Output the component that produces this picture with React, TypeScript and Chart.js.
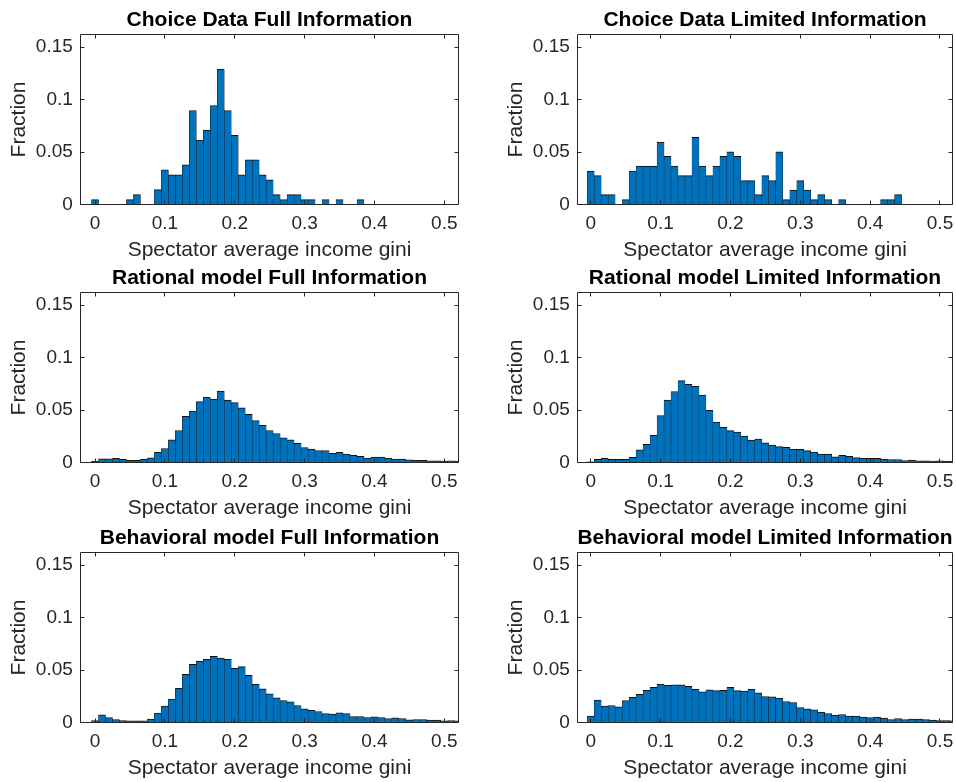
import React, { useEffect, useRef } from "react";
import { Chart, registerables } from "chart.js";

Chart.register(...registerables);

// ---------------- data ----------------
const binCenters = [
  0.0, 0.01, 0.02, 0.03, 0.04, 0.05, 0.06, 0.07, 0.08, 0.09,
  0.1, 0.11, 0.12, 0.13, 0.14, 0.15, 0.16, 0.17, 0.18, 0.19,
  0.2, 0.21, 0.22, 0.23, 0.24, 0.25, 0.26, 0.27, 0.28, 0.29,
  0.3, 0.31, 0.32, 0.33, 0.34, 0.35, 0.36, 0.37, 0.38, 0.39,
  0.4, 0.41, 0.42, 0.43, 0.44, 0.45, 0.46, 0.47, 0.48, 0.49,
  0.5, 0.51, 0.52,
];

const choiceFull = [
  0.0047, 0, 0, 0, 0, 0.0047, 0.0094, 0, 0, 0.0142,
  0.033, 0.0283, 0.0283, 0.0377, 0.0896, 0.0613, 0.0708, 0.0943, 0.129, 0.0896,
  0.066, 0.0283, 0.0425, 0.0425, 0.0283, 0.0236, 0.0094, 0.0047, 0.0094, 0.0094,
  0.0047, 0.0047, 0, 0.0047, 0, 0.0047, 0, 0, 0.0047, 0,
  0, 0, 0, 0, 0, 0, 0, 0, 0, 0,
  0, 0, 0,
];

const choiceLimited = [
  0.0319, 0.0275, 0.0094, 0.0094, 0, 0.0047, 0.0319, 0.0366, 0.0366, 0.0366,
  0.0594, 0.046, 0.0366, 0.0275, 0.0275, 0.064, 0.0366, 0.0275, 0.0366, 0.046,
  0.0503, 0.046, 0.0228, 0.0228, 0.0094, 0.0275, 0.0228, 0.0503, 0.0047, 0.0138,
  0.0228, 0.0138, 0.0047, 0.0094, 0.0047, 0, 0.0047, 0, 0, 0,
  0, 0, 0.0047, 0.0047, 0.0094, 0, 0, 0, 0, 0,
  0, 0, 0,
];

const rationalFull = [
  0.001, 0.0036, 0.0036, 0.004, 0.003, 0.002, 0.002, 0.003, 0.0045, 0.0098,
  0.0133, 0.0215, 0.0305, 0.044, 0.049, 0.058, 0.062, 0.0605, 0.068, 0.0595,
  0.057, 0.052, 0.0458, 0.04, 0.0354, 0.0305, 0.0276, 0.0234, 0.0215, 0.0182,
  0.0143, 0.0127, 0.0114, 0.0114, 0.0088, 0.0098, 0.0081, 0.0068, 0.0058, 0.0042,
  0.0052, 0.0052, 0.0042, 0.0033, 0.0033, 0.0026, 0.002, 0.002, 0.0016, 0.0016,
  0.0013, 0.0016, 0.0013,
];

const rationalLimited = [
  0.0006, 0.003, 0.004, 0.003, 0.003, 0.003, 0.005, 0.012, 0.0174, 0.0258,
  0.0448, 0.0594, 0.0677, 0.078, 0.0745, 0.0726, 0.0642, 0.0497, 0.0384, 0.0335,
  0.0303, 0.029, 0.0252, 0.0213, 0.0223, 0.0187, 0.0165, 0.0152, 0.0145, 0.0129,
  0.0126, 0.0113, 0.01, 0.008, 0.008, 0.0055, 0.0068, 0.0058, 0.0048, 0.0039,
  0.0039, 0.0039, 0.0032, 0.0029, 0.0029, 0.0019, 0.0023, 0.0016, 0.0016, 0.0013,
  0.0016, 0.0013, 0.0013,
];

const behavioralFull = [
  0.0019, 0.0073, 0.0048, 0.0029, 0.0019, 0.0016, 0.0016, 0.0016, 0.0032, 0.0089,
  0.0156, 0.0223, 0.0325, 0.0459, 0.0554, 0.0586, 0.0602, 0.063, 0.0615, 0.0602,
  0.0516, 0.0532, 0.0449, 0.0363, 0.0322, 0.0274, 0.0236, 0.021, 0.0197, 0.0162,
  0.0131, 0.0115, 0.0105, 0.0086, 0.008, 0.0092, 0.0086, 0.0057, 0.0057, 0.0048,
  0.0054, 0.0048, 0.0038, 0.0045, 0.0038, 0.0025, 0.0029, 0.0029, 0.0022, 0.0022,
  0.0016, 0.0019, 0.0016,
];

const behavioralLimited = [
  0.006, 0.0213, 0.0156, 0.0162, 0.015, 0.021, 0.0239, 0.0268, 0.0306, 0.0334,
  0.0366, 0.0354, 0.036, 0.036, 0.0344, 0.0315, 0.0293, 0.0312, 0.0303, 0.0306,
  0.0334, 0.0303, 0.03, 0.0315, 0.0283, 0.0248, 0.0245, 0.0232, 0.02, 0.0191,
  0.0143, 0.0131, 0.0121, 0.0099, 0.0086, 0.007, 0.0076, 0.006, 0.006, 0.0051,
  0.0048, 0.0051, 0.0041, 0.0029, 0.0038, 0.0029, 0.0032, 0.0032, 0.0029, 0.0022,
  0.0019, 0.0019, 0.0016,
];

const xTickValues = [0, 0.1, 0.2, 0.3, 0.4, 0.5];
const xTickLabels = ["0", "0.1", "0.2", "0.3", "0.4", "0.5"];
const yTickValues = [0, 0.05, 0.1, 0.15];
const yTickLabels = ["0", "0.05", "0.1", "0.15"];

const titles = [
  "Choice Data Full Information",
  "Choice Data Limited Information",
  "Rational model Full Information",
  "Rational model Limited Information",
  "Behavioral model Full Information",
  "Behavioral model Limited Information",
];
const seriesList = [
  choiceFull,
  choiceLimited,
  rationalFull,
  rationalLimited,
  behavioralFull,
  behavioralLimited,
];
const xLabel = "Spectator average income gini";
const yLabel = "Fraction";

// ---------------- layout & style ----------------
const FONT = '"Liberation Sans", Arial, Helvetica, sans-serif';
const AXIS_COLOR = "#262626";
const BAR_COLOR = "rgb(0,114,189)";
const EDGE_COLOR = "#111111";
const TICK_FONT = 19;
const LABEL_FONT = 21;
const TICK_LEN = 4;
const Y_MAX = 0.162;

const CANVAS_H = 264;
const TOP_AREA = 34.5; // canvas top -> axes top
const X_AXIS_H = 59.5; // axes bottom -> canvas bottom
const Y_AXIS_W = 80.5; // canvas left -> axes left
const rowTops = [0, 258, 518];
const cols = [
  { left: 0, width: 470, rightPad: 11.5, xmin: -0.0208, xmax: 0.5203 },
  { left: 497, width: 459, rightPad: 3.5, xmin: -0.0189, xmax: 0.5179 },
];

const matlabAxesPlugin = {
  id: "matlabAxes",
  afterDatasetsDraw(chart: any) {
    const { ctx, chartArea: a, scales } = chart;
    const xs = scales.x;
    const ys = scales.y;
    const snap = (v: number) => Math.round(v - 0.5) + 0.5;
    const L = snap(a.left);
    const R = snap(a.right);
    const T = snap(a.top);
    const B = snap(a.bottom);
    ctx.save();
    ctx.strokeStyle = AXIS_COLOR;
    ctx.lineWidth = 1;
    ctx.beginPath();
    ctx.rect(L, T, R - L, B - T);
    xs.ticks.forEach((t: any) => {
      const p = snap(xs.getPixelForValue(t.value));
      ctx.moveTo(p, B);
      ctx.lineTo(p, B - TICK_LEN);
      ctx.moveTo(p, T);
      ctx.lineTo(p, T + TICK_LEN);
    });
    ys.ticks.forEach((t: any) => {
      const p = snap(ys.getPixelForValue(t.value));
      ctx.moveTo(L, p);
      ctx.lineTo(L + TICK_LEN, p);
      ctx.moveTo(R, p);
      ctx.lineTo(R - TICK_LEN, p);
    });
    ctx.stroke();
    ctx.restore();
  },
};

function Panel({ index }: { index: number }) {
  const ref = useRef<HTMLCanvasElement | null>(null);
  const col = cols[index % 2];
  const top = rowTops[Math.floor(index / 2)];

  useEffect(() => {
    if (!ref.current) return;
    const values = seriesList[index];
    const chart = new Chart(ref.current, {
      type: "bar",
      data: {
        datasets: [
          {
            data: binCenters.map((x, i) => ({ x, y: values[i] })),
            backgroundColor: BAR_COLOR,
            borderColor: EDGE_COLOR,
            borderWidth: { top: 1, left: 0.5, right: 0.5, bottom: 0 } as any,
            borderSkipped: false,
            barPercentage: 1,
            categoryPercentage: 1,
            clip: 0 as any,
          },
        ],
      },
      plugins: [matlabAxesPlugin],
      options: {
        responsive: false,
        animation: false,
        events: [],
        layout: { padding: { left: 0, top: 0, right: col.rightPad, bottom: 0 } },
        plugins: {
          legend: { display: false },
          tooltip: { enabled: false },
          title: {
            display: true,
            text: titles[index],
            fullSize: false,
            color: "#000000",
            font: { family: FONT, size: LABEL_FONT, weight: "bold", lineHeight: 1.2 },
            padding: { top: TOP_AREA - LABEL_FONT * 1.2 - 1.9, bottom: 1.9 },
          },
        },
        scales: {
          x: {
            type: "linear",
            min: col.xmin,
            max: col.xmax,
            bounds: "data",
            offset: false,
            grid: { display: false, drawTicks: false, offset: false },
            border: { display: false },
            afterBuildTicks: (scale: any) => {
              scale.ticks = xTickValues.map((v) => ({ value: v }));
            },
            afterFit: (scale: any) => {
              scale.height = X_AXIS_H;
              scale.paddingLeft = 0;
              scale.paddingRight = 0;
            },
            ticks: {
              autoSkip: false,
              maxRotation: 0,
              minRotation: 0,
              padding: 7.6,
              color: AXIS_COLOR,
              font: { family: FONT, size: TICK_FONT },
              callback: (_v: any, i: number) => xTickLabels[i],
            },
            title: {
              display: true,
              text: xLabel,
              color: AXIS_COLOR,
              font: { family: FONT, size: LABEL_FONT, lineHeight: 1.2 },
              padding: { top: 0, bottom: 1.4 },
            },
          },
          y: {
            type: "linear",
            min: 0,
            max: Y_MAX,
            bounds: "data",
            grid: { display: false, drawTicks: false },
            border: { display: false },
            afterBuildTicks: (scale: any) => {
              scale.ticks = yTickValues.map((v) => ({ value: v }));
            },
            afterFit: (scale: any) => {
              scale.width = Y_AXIS_W;
              scale.paddingTop = 0;
              scale.paddingBottom = 0;
            },
            ticks: {
              autoSkip: false,
              padding: 7.7,
              color: AXIS_COLOR,
              font: { family: FONT, size: TICK_FONT },
              callback: (_v: any, i: number) => yTickLabels[i],
            },
            title: {
              display: true,
              text: yLabel,
              color: AXIS_COLOR,
              font: { family: FONT, size: LABEL_FONT, lineHeight: 1.2 },
              padding: { top: 6.9, bottom: 0 },
            },
          },
        },
      } as any,
    });
    return () => chart.destroy();
  }, [index]);

  return (
    <canvas
      ref={ref}
      width={col.width}
      height={CANVAS_H}
      style={{
        position: "absolute",
        left: col.left,
        top: top,
        width: col.width,
        height: CANVAS_H,
      }}
    />
  );
}

export default function App() {
  return (
    <div
      style={{
        position: "absolute",
        left: 0,
        top: 0,
        width: 956,
        height: 782,
        background: "#ffffff",
        overflow: "hidden",
      }}
    >
      {titles.map((_t, i) => (
        <Panel key={i} index={i} />
      ))}
    </div>
  );
}
